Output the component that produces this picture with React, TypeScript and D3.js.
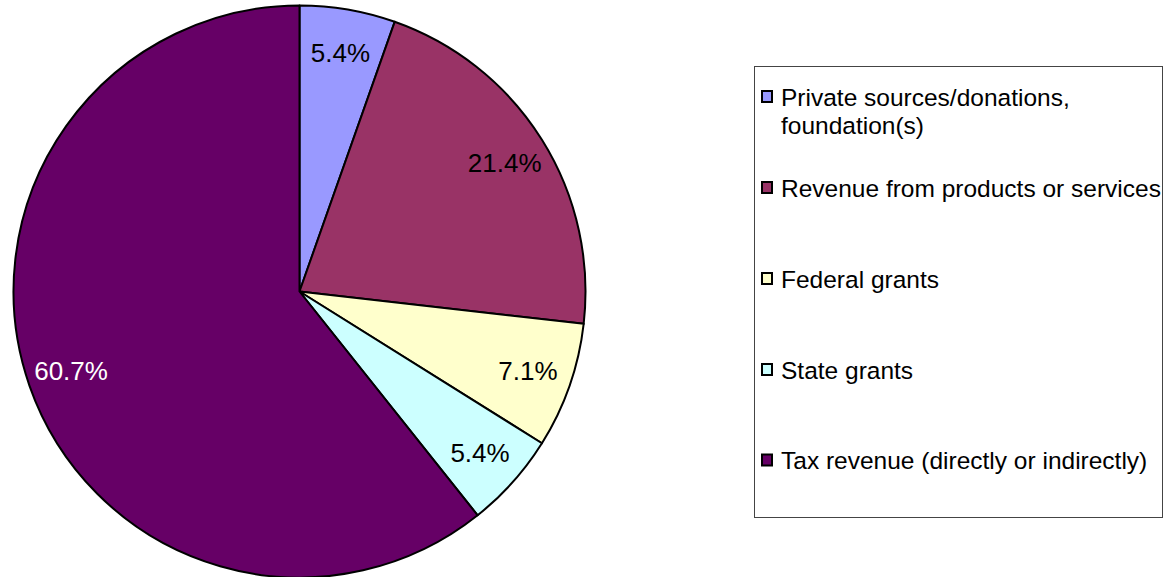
import React, { useRef, useEffect } from "react";
import * as d3 from "d3";

const categories = [
  "Private sources/donations, foundation(s)",
  "Revenue from products or services",
  "Federal grants",
  "State grants",
  "Tax revenue (directly or indirectly)",
];
const legendLines = [
  ["Private sources/donations,", "foundation(s)"],
  ["Revenue from products or services"],
  ["Federal grants"],
  ["State grants"],
  ["Tax revenue (directly or indirectly)"],
];
const values = [5.4, 21.4, 7.1, 5.4, 60.7];
const colors = ["#9999FF", "#993366", "#FFFFCC", "#CCFFFF", "#660066"];
const labelColors = ["#000", "#000", "#000", "#000", "#fff"];

const W = 1173;
const H = 577;

export default function App() {
  const ref = useRef<SVGSVGElement>(null);
  useEffect(() => {
    const svg = d3.select(ref.current);
    svg.selectAll("*").remove();
    const cx = 299.5, cy = 291.5, R = 286;
    const pie = d3.pie<number>().sort(null).value((d) => d);
    const arcs = pie(values);
    const arc = d3.arc<d3.PieArcDatum<number>>().innerRadius(0).outerRadius(R);
    const labelArc = d3.arc<d3.PieArcDatum<number>>().innerRadius(242).outerRadius(242);
    const g = svg.append("g").attr("transform", `translate(${cx},${cy})`);
    g.selectAll("path")
      .data(arcs)
      .enter()
      .append("path")
      .attr("d", arc)
      .attr("fill", (_, i) => colors[i])
      .attr("stroke", "#000")
      .attr("stroke-width", 2)
      .attr("stroke-linejoin", "round");
    g.selectAll("text.lbl")
      .data(arcs)
      .enter()
      .append("text")
      .attr("class", "lbl")
      .attr("transform", (d) => `translate(${labelArc.centroid(d)})`)
      .attr("text-anchor", "middle")
      .attr("dominant-baseline", "central")
      .attr("font-family", "Liberation Sans, Arial, sans-serif")
      .attr("font-size", 26)
      .attr("fill", (_, i) => labelColors[i])
      .text((d) => d.data.toFixed(1) + "%");

    // legend
    const lx = 754, ly = 66, lw = 408, lh = 451;
    svg.append("rect")
      .attr("x", lx + 0.5).attr("y", ly + 0.5)
      .attr("width", lw).attr("height", lh)
      .attr("fill", "#fff").attr("stroke", "#444").attr("stroke-width", 1);
    const rowY = [96.5, 187.5, 278.5, 369.5, 460];
    const lg = svg.append("g");
    categories.forEach((c, i) => {
      lg.append("rect")
        .attr("x", 762).attr("y", rowY[i] - 5.5)
        .attr("width", 10).attr("height", 11)
        .attr("fill", colors[i]).attr("stroke", "#000").attr("stroke-width", 2);
      const t = lg.append("text")
        .attr("x", 781)
        .attr("y", rowY[i])
        .attr("font-family", "Liberation Sans, Arial, sans-serif")
        .attr("font-size", 24.5)
        .attr("fill", "#000")
        .attr("dominant-baseline", "central");
      legendLines[i].forEach((line, j) => {
        t.append("tspan").attr("x", 781).attr("dy", j === 0 ? 0 : 28).text(line);
      });
    });
  }, []);
  return (
    <svg
      ref={ref}
      width={W}
      height={H}
      style={{ position: "absolute", left: 0, top: 0, background: "#fff" }}
    />
  );
}
